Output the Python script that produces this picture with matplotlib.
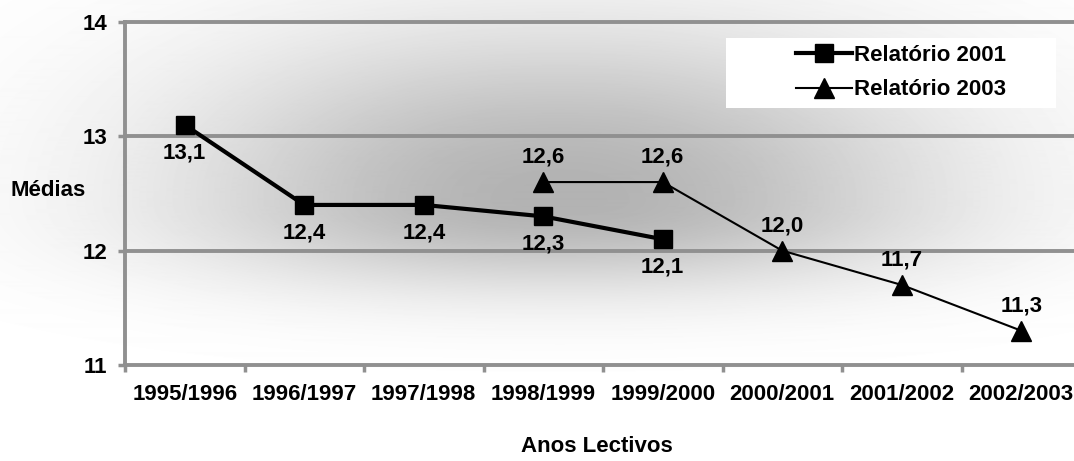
import numpy as np
import matplotlib.pyplot as plt
from matplotlib.patches import Rectangle

plt.rcParams['font.family'] = ['Liberation Sans', 'DejaVu Sans']
plt.rcParams['font.weight'] = 'bold'

anos = ['1995/1996', '1996/1997', '1997/1998', '1998/1999',
        '1999/2000', '2000/2001', '2001/2002', '2002/2003']
rel2001 = [13.1, 12.4, 12.4, 12.3, 12.1]
rel2003 = [12.6, 12.6, 12.0, 11.7, 11.3]
x2001 = np.arange(0, 5)
x2003 = np.arange(3, 8)

W, H = 1074, 461
fig = plt.figure(figsize=(W / 100, H / 100), dpi=100)

# background gradient (grey in the middle, white at the edges)
bg = fig.add_axes([0, 0, 1, 1], zorder=-10)
xx, yy = np.meshgrid(np.arange(W), np.arange(H))
fx = np.exp(-(np.abs(xx - 560) / 380.0) ** 2.2)
sy = np.where(yy < 200, 170.0, 88.0)
fy = np.exp(-(np.abs(yy - 200) / sy) ** 2.2)
shade = 1 - 0.30 * fx * fy
bg.imshow(shade, cmap='gray', vmin=0, vmax=1, aspect='auto',
          extent=(0, W, H, 0), interpolation='bilinear')
bg.axis('off')

ax = fig.add_axes([125 / W, 1 - 365 / H, 956 / W, 343 / H], zorder=1)
ax.set_facecolor('none')

grey = '#909090'
fs = 16
ax.plot(x2001, rel2001, color='black', lw=3, marker='s', ms=13,
        label='Relatório 2001', zorder=5)
ax.plot(x2003, rel2003, color='black', lw=1.5, marker='^', ms=14,
        label='Relatório 2003', zorder=5)

for x, v in zip(x2001, rel2001):
    ax.annotate(f'{v:.1f}'.replace('.', ','), (x, v), xytext=(0, -20),
                textcoords='offset points', ha='center', va='center',
                fontsize=fs, fontweight='bold')
for x, v in zip(x2003, rel2003):
    ax.annotate(f'{v:.1f}'.replace('.', ','), (x, v), xytext=(0, 18),
                textcoords='offset points', ha='center', va='center',
                fontsize=fs, fontweight='bold')

ax.set_xlim(-0.5, 7.5)
ax.set_ylim(11, 14)
ax.set_yticks([11, 12, 13, 14])
ax.set_xticks(np.arange(len(anos)))
ax.set_xticklabels(anos)
ax.set_xticks(np.arange(-0.5, 8, 1), minor=True)
ax.tick_params(axis='x', which='major', length=0, pad=14, labelsize=fs)
ax.tick_params(axis='x', which='minor', length=5, width=2.5, color=grey)
ax.tick_params(axis='y', length=5, width=2.5, color=grey, pad=8, labelsize=fs)

for y in [12, 13]:
    ax.axhline(y, color=grey, lw=2.8, zorder=1)
for s in ['left', 'bottom', 'top']:
    ax.spines[s].set_color(grey)
    ax.spines[s].set_linewidth(2.8)
ax.spines['right'].set_visible(False)

ax.set_ylabel('Médias', rotation=0, fontsize=fs, fontweight='bold',
              ha='center', va='center')
ax.yaxis.set_label_coords(-0.0805, 0.51)
ax.set_xlabel('Anos Lectivos', fontsize=fs, fontweight='bold',
              ha='center', va='center')
ax.xaxis.set_label_coords(0.494, -0.239)

# white legend box
fig.patches.append(Rectangle((726 / W, 1 - 108 / H), 330 / W, 70 / H,
                             transform=fig.transFigure, facecolor='white',
                             edgecolor='none', zorder=0))
leg = ax.legend(loc='center left', bbox_to_anchor=(785 / W, 1 - 72.5 / H),
                bbox_transform=fig.transFigure, frameon=False, fontsize=fs,
                handlelength=2.5, handletextpad=0.1, borderpad=0,
                labelspacing=0.62, markerscale=1.0)

fig.savefig('out.png', dpi=100)
